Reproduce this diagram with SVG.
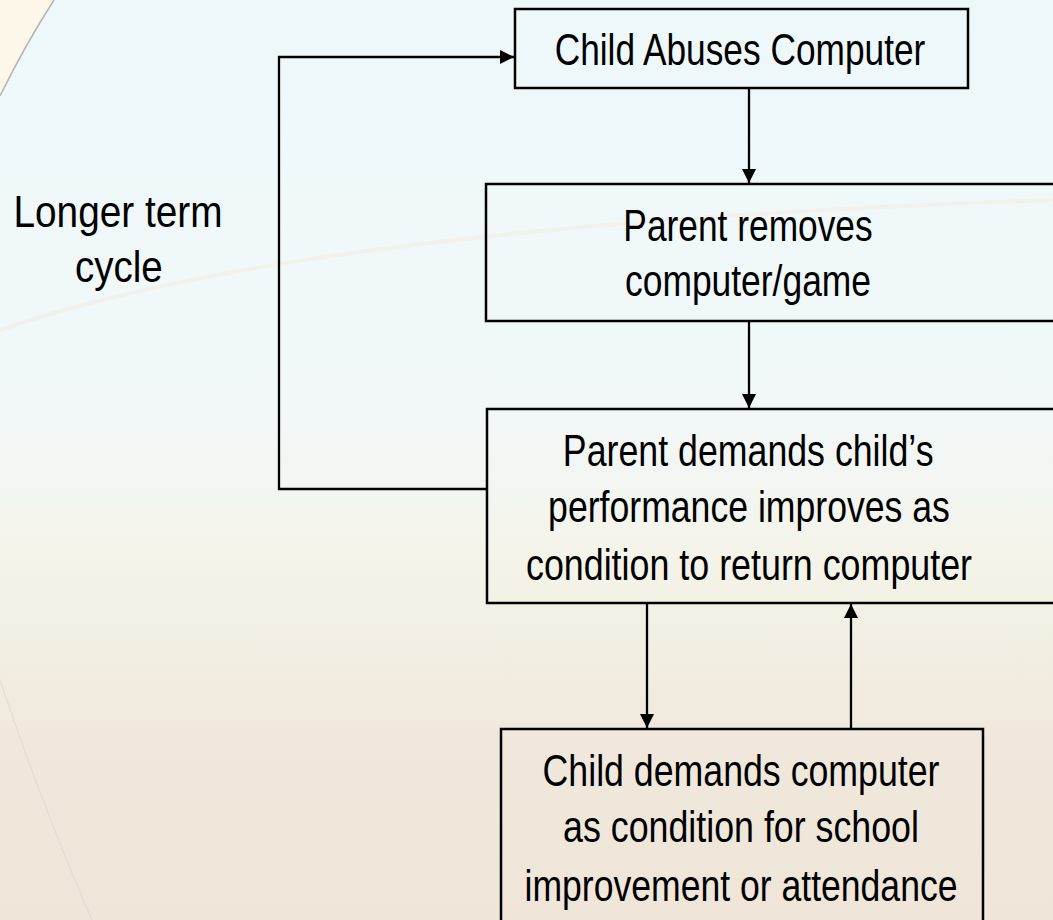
<svg xmlns="http://www.w3.org/2000/svg" width="1053" height="920" viewBox="0 0 1053 920">
<defs>
<linearGradient id="bg" x1="0" y1="0" x2="0" y2="1">
<stop offset="0" stop-color="#edf8fb"/>
<stop offset="0.45" stop-color="#f2f8f8"/>
<stop offset="0.62" stop-color="#f4f3e8"/>
<stop offset="0.8" stop-color="#f0e8dc"/>
<stop offset="1" stop-color="#efe5d9"/>
</linearGradient>
<marker id="ah" viewBox="0 0 14 14" refX="14" refY="7" markerWidth="14" markerHeight="14" markerUnits="userSpaceOnUse" orient="auto">
<path d="M0,0 L14,7 L0,14 Z" fill="#000"/>
</marker>
<style>
.box{fill:none;stroke:#000;stroke-width:2.5}
.t{font-family:"Liberation Sans Narrow","Arial Narrow","Liberation Sans",Arial,sans-serif;font-size:45px;fill:#000;text-anchor:middle}
.c{fill:none;stroke:#000;stroke-width:2.3}
</style>
</defs>
<rect x="0" y="0" width="1053" height="920" fill="url(#bg)"/>
<path d="M0,0 H54 Q25,45 0,96 Z" fill="#fdf7ea"/>
<path d="M54,0 Q25,45 0,96" fill="none" stroke="#b9b4ae" stroke-width="1.6"/>
<path d="M0,330 Q300,225 1053,200" fill="none" stroke="#f3ece2" stroke-width="4" opacity="0.6"/>
<path d="M0,680 Q40,800 92,920" fill="none" stroke="#e4ddd4" stroke-width="1.4"/>

<g id="connectors">
<path class="c" d="M749,88 V183" marker-end="url(#ah)"/>
<path class="c" d="M749,321 V408" marker-end="url(#ah)"/>
<path class="c" d="M647,603 V728" marker-end="url(#ah)"/>
<path class="c" d="M851,729 V604" marker-end="url(#ah)"/>
<path class="c" d="M487,489 H279 V57 H514" marker-end="url(#ah)"/>
</g>

<g id="label-cycle" transform="matrix(0.82,0,0,1,118,0)">
<text class="t" x="0" y="227" textLength="255" lengthAdjust="spacingAndGlyphs">Longer term</text>
<text class="t" x="1" y="282" textLength="107" lengthAdjust="spacingAndGlyphs">cycle</text>
</g>

<g id="node-abuses">
<rect class="box" x="515" y="9" width="453" height="79"/>
<g transform="matrix(0.82,0,0,1,740,0)">
<text class="t" x="0" y="65" textLength="452" lengthAdjust="spacingAndGlyphs">Child Abuses Computer</text>
</g>
</g>

<g id="node-removes">
<rect class="box" x="486" y="184" width="580" height="137"/>
<g transform="matrix(0.82,0,0,1,748,0)">
<text class="t" x="0" y="241" textLength="304" lengthAdjust="spacingAndGlyphs">Parent removes</text>
<text class="t" x="0" y="296" textLength="300" lengthAdjust="spacingAndGlyphs">computer/game</text>
</g>
</g>

<g id="node-demands">
<rect class="box" x="487" y="409" width="580" height="194"/>
<g transform="matrix(0.82,0,0,1,749,0)">
<text class="t" x="-1" y="466" textLength="452" lengthAdjust="spacingAndGlyphs">Parent demands child’s</text>
<text class="t" x="0" y="522" textLength="490" lengthAdjust="spacingAndGlyphs">performance improves as</text>
<text class="t" x="0" y="580" textLength="544" lengthAdjust="spacingAndGlyphs">condition to return computer</text>
</g>
</g>

<g id="node-child-demands">
<rect class="box" x="501" y="729" width="482" height="220"/>
<g transform="matrix(0.82,0,0,1,741,0)">
<text class="t" x="0" y="786" textLength="484" lengthAdjust="spacingAndGlyphs">Child demands computer</text>
<text class="t" x="0" y="842" textLength="434" lengthAdjust="spacingAndGlyphs">as condition for school</text>
<text class="t" x="0" y="901" textLength="528" lengthAdjust="spacingAndGlyphs">improvement or attendance</text>
</g>
</g>
</svg>
